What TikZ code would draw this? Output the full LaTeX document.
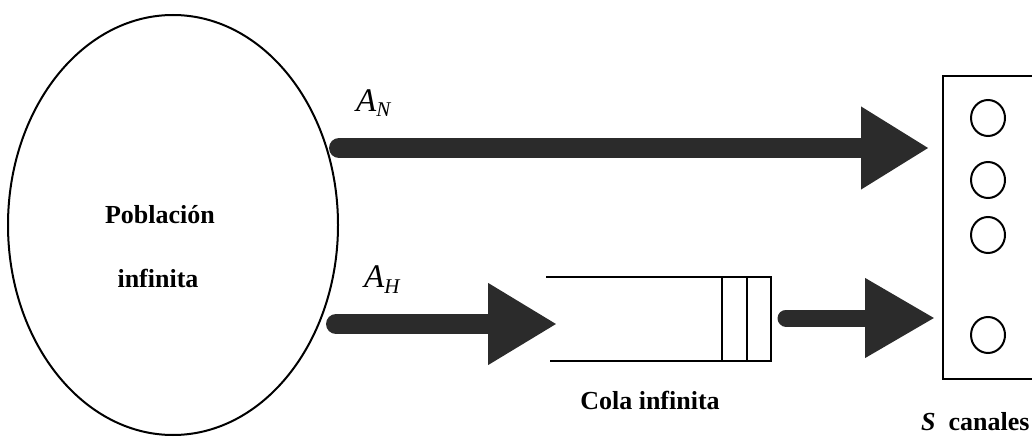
\documentclass[tikz,border=0pt]{standalone}
\usepackage{fontspec}
\setmainfont{Liberation Serif}
\usetikzlibrary{arrows.meta,shapes.geometric}
\definecolor{ink}{HTML}{2B2B2B}
\begin{document}
\begin{tikzpicture}[x=1pt,y=-1pt,
  flow/.style={line width=20pt, line cap=round, draw=ink, -{Triangle[length=68pt,width=78pt]}},
  lbl/.style={font=\fontsize{26}{30}\selectfont\bfseries, inner sep=0pt, anchor=base},
  rate/.style={font=\fontsize{33}{33}\selectfont\itshape, inner sep=0pt, anchor=base west},
  outline/.style={line width=2.3pt, draw=black},
  server/.style={draw=black, line width=2pt, ellipse, minimum width=34pt, minimum height=36pt, inner sep=0pt}
]
\useasboundingbox (0,0) rectangle (1032,438);
\clip (0,0) rectangle (1032,438);

% population
\node[draw=black, line width=2pt, ellipse, minimum width=330pt, minimum height=420pt, inner sep=0pt] (pop) at (173,225) {};
\node[lbl] (poptxt1) at (160,223) {Población};
\node[lbl] (poptxt2) at (158,287) {infinita};

% queue
\coordinate (qtl) at (546,277);
\coordinate (qbl) at (550,361);
\coordinate (qtr) at (771,277);
\coordinate (qbr) at (771,361);
\draw[outline] (qtl) -- (qtr) -- (qbr) -- (qbl);
\draw[outline] (722,277) -- (722,361);
\draw[outline] (747,277) -- (747,361);
\node[lbl] (qtxt) at (650,409) {Cola infinita};

% server box
\node[draw=black, line width=2.3pt, rectangle, minimum width=110pt, minimum height=303pt, inner sep=0pt, anchor=north west] (box) at (942,75) {};
\node[server] (s1) at (988,118) {};
\node[server] (s2) at (988,180) {};
\node[server] (s3) at (988,235) {};
\node[server] (s4) at (988,335) {};
\node[lbl, anchor=base west] (stxt) at (921,430) {\itshape S\upshape\ \ canales};

% arrows
\coordinate (an0) at (339,148);
\coordinate (an1) at (929,148);
\draw[flow] (an0) -- (an1);
\node[rate] (anl) at (356,112) {A\raisebox{-5pt}{\fontsize{21}{21}\selectfont N}};

\coordinate (ah0) at (336,324);
\coordinate (ah1) at (557,324);
\draw[flow, -{Triangle[length=69pt,width=77pt]}] (ah0) -- (ah1);
\node[rate] (ahl) at (364,287) {A\raisebox{-6pt}{\fontsize{21}{21}\selectfont H}};

\coordinate (ao0) at (786,318);
\coordinate (ao1) at (935,318);
\draw[flow, line width=17pt, -{Triangle[length=70pt,width=75pt]}] (ao0) -- (ao1);
\end{tikzpicture}
\end{document}
